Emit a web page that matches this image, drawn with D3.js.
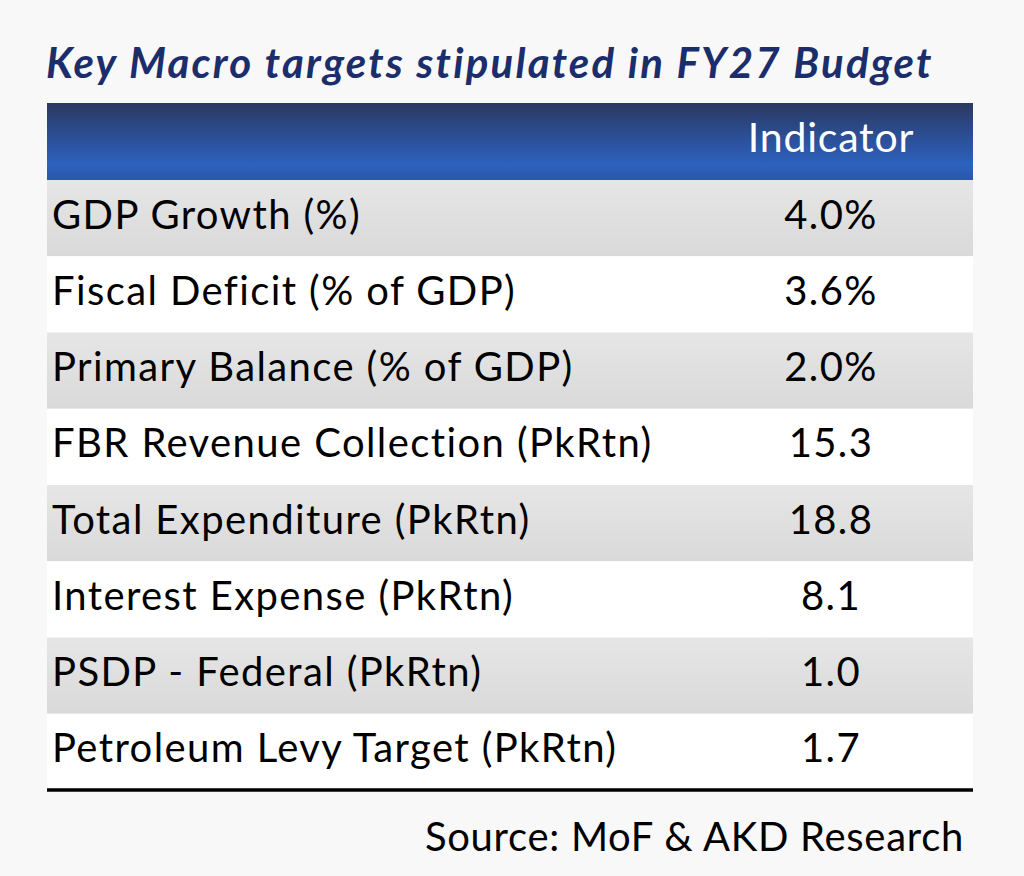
<!DOCTYPE html>
<html>
<head>
<meta charset="utf-8">
<script src="https://cdn.jsdelivr.net/npm/d3@7"></script>
<style>
  body { margin: 0; background: #f8f8f8; }
  svg { display: block; }
  text { font-family: Lato, "Open Sans", sans-serif; }
</style>
</head>
<body>
<div id="chart"></div>
<script>
// table content
var indicators = [
    'GDP Growth (%)',
    'Fiscal Deficit (% of GDP)',
    'Primary Balance (% of GDP)',
    'FBR Revenue Collection (PkRtn)',
    'Total Expenditure (PkRtn)',
    'Interest Expense (PkRtn)',
    'PSDP - Federal (PkRtn)',
    'Petroleum Levy Target (PkRtn)'
];
var targets = ['4.0%', '3.6%', '2.0%', '15.3', '18.8', '8.1', '1.0', '1.7'];
var columnHeader = 'Indicator';
var title = 'Key Macro targets stipulated in FY27 Budget';
var source = 'Source: MoF & AKD Research';

var width = 1024, height = 876;
var margin = { left: 47, right: 51, headTop: 103, headBottom: 180, bottom: 790 };

var svg = d3.select('#chart').append('svg')
    .attr('width', width)
    .attr('height', height);

var defs = svg.append('defs');
var hg = defs.append('linearGradient').attr('id', 'headGrad')
    .attr('x1', 0).attr('y1', 0).attr('x2', 0).attr('y2', 1);
hg.append('stop').attr('offset', '0%').attr('stop-color', '#2a3960');
hg.append('stop').attr('offset', '45%').attr('stop-color', '#2c4f96');
hg.append('stop').attr('offset', '80%').attr('stop-color', '#2d62bf');
hg.append('stop').attr('offset', '100%').attr('stop-color', '#2957a8');

var rg = defs.append('linearGradient').attr('id', 'rowGrad')
    .attr('x1', 0).attr('y1', 0).attr('x2', 0).attr('y2', 1);
rg.append('stop').attr('offset', '0%').attr('stop-color', '#e6e6e6');
rg.append('stop').attr('offset', '100%').attr('stop-color', '#d9d9d9');

svg.append('rect').attr('width', width).attr('height', height).attr('fill', '#f8f8f8');

// title
svg.append('text')
    .attr('x', 46)
    .attr('y', 78)
    .attr('fill', '#1c2d6c')
    .style('font-size', '42px')
    .style('letter-spacing', '2.2px')
    .style('font-weight', 'bold')
    .style('font-style', 'italic')
    .text(title);

var x0 = margin.left, x1 = width - margin.right;
var valueX = 831;

// header
svg.append('rect')
    .attr('x', x0).attr('y', margin.headTop)
    .attr('width', x1 - x0).attr('height', margin.headBottom - margin.headTop)
    .attr('fill', 'url(#headGrad)');

svg.append('text')
    .attr('x', valueX)
    .attr('y', 152)
    .attr('text-anchor', 'middle')
    .attr('fill', '#ffffff')
    .style('font-size', '41px')
    .style('letter-spacing', '0.8px')
    .text(columnHeader);

// rows
var yScale = d3.scaleBand()
    .domain(indicators)
    .range([margin.headBottom, margin.bottom]);

var rows = svg.selectAll('.row')
    .data(indicators)
    .enter().append('g')
    .attr('class', 'row')
    .attr('transform', function (d) { return 'translate(0,' + yScale(d) + ')'; });

rows.append('rect')
    .attr('x', x0)
    .attr('width', x1 - x0)
    .attr('height', yScale.bandwidth())
    .attr('fill', function (d, i) { return i % 2 === 0 ? 'url(#rowGrad)' : '#ffffff'; });

rows.append('text')
    .attr('x', 52)
    .attr('y', yScale.bandwidth() / 2 + 10.5)
    .attr('fill', '#000')
    .style('font-size', '40px')
    .style('letter-spacing', '1.4px')
    .text(function (d) { return d; });

rows.append('text')
    .attr('x', valueX)
    .attr('y', yScale.bandwidth() / 2 + 10.5)
    .attr('text-anchor', 'middle')
    .attr('fill', '#000')
    .style('font-size', '40px')
    .style('letter-spacing', '1.4px')
    .text(function (d, i) { return targets[i]; });

// bottom rule
svg.append('line')
    .attr('x1', x0).attr('x2', x1)
    .attr('y1', margin.bottom).attr('y2', margin.bottom)
    .attr('stroke', '#000')
    .attr('stroke-width', 3.5);

// source
svg.append('text')
    .attr('x', 964)
    .attr('y', 851)
    .attr('text-anchor', 'end')
    .attr('fill', '#000')
    .style('font-size', '40px')
    .style('letter-spacing', '0.7px')
    .text(source);
</script>
</body>
</html>
